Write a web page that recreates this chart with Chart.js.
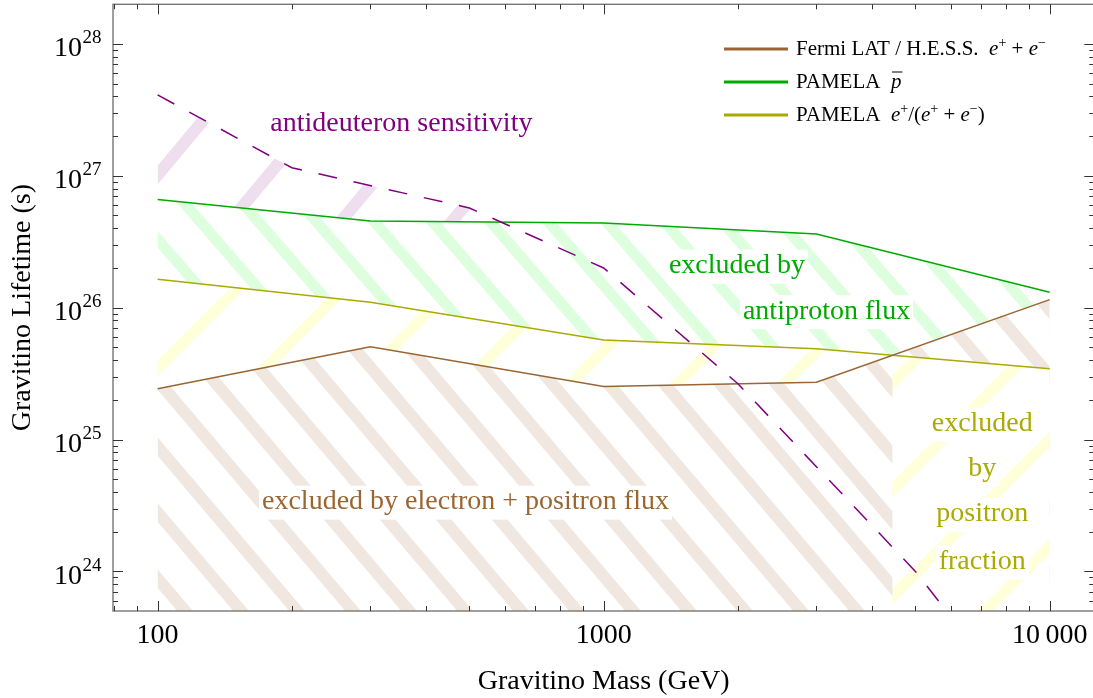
<!DOCTYPE html>
<html>
<head>
<meta charset="utf-8">
<script src="https://cdn.jsdelivr.net/npm/chart.js@4.4.1/dist/chart.umd.min.js"></script>
<style>
html, body { margin: 0; padding: 0; background: #fff; overflow: hidden; }
#wrap { width: 1098px; height: 698px; }
</style>
</head>
<body>
<div id="wrap"><canvas id="chart" width="1098" height="698"></canvas></div>
<script>
// constraint curves (mass in GeV, lifetime in s)
const masses = [100, 300, 1000, 3000, 10000];
const fermiHess = [2.43e25, 5.06e25, 2.52e25, 2.72e25, 1.15e26];
const pamelaPbar = [6.6e26, 4.54e26, 4.39e26, 3.62e26, 1.31e26];
const pamelaFrac = [1.64e26, 1.10e26, 5.69e25, 4.87e25, 3.44e25];

// antideuteron sensitivity (dashed)
const dbarMasses = [100, 200, 500, 1000, 2000, 5000, 10000];
const dbarLifetime = [4.1e27, 1.15e27, 5.7e26, 2.0e26, 2.65e25, 1.0e24, 5e22];

const xTicks = [100, 1000, 10000];
const xTickLabels = ['100', '1000', '10\u2009000'];
const yExponents = [24, 25, 26, 27, 28];

const serif = "'Liberation Serif', 'Times New Roman', serif";
const brown = '#996633', green = '#00aa00', olive = '#aaaa00', purple = '#800080';

// region labels, placed in data coordinates
const regionLabels = [
    { text: 'antideuteron sensitivity', mass: 352, life: 2.49e27, color: purple },
    { text: 'excluded by', mass: 1990, life: 2.08e26, color: green },
    { text: 'antiproton flux', mass: 3160, life: 9.4e25, color: green },
    { text: 'excluded by electron + positron flux', mass: 490, life: 3.38e24, color: brown },
    { text: 'excluded', mass: 7060, life: 1.32e25, color: olive },
    { text: 'by', mass: 7060, life: 6.05e24, color: olive },
    { text: 'positron', mass: 7060, life: 2.73e24, color: olive },
    { text: 'fraction', mass: 7060, life: 1.19e24, color: olive }
];

const ctx = document.getElementById('chart').getContext('2d');

// diagonal hatch tiles (white backed so later regions cover earlier ones)
function stripes(color, period, height, offset, down, width) {
    const c = document.createElement('canvas');
    c.width = period; c.height = height;
    const g = c.getContext('2d');
    g.fillStyle = '#fff';
    g.fillRect(0, 0, period, height);
    g.strokeStyle = color;
    g.lineWidth = width;
    for (let k = -2; k <= 2; k++) {
        const x0 = offset + k * period;
        g.beginPath();
        if (down) { g.moveTo(x0 - period, -height); g.lineTo(x0 + 2 * period, 2 * height); }
        else { g.moveTo(x0 + period, -height); g.lineTo(x0 - 2 * period, 2 * height); }
        g.stroke();
    }
    return ctx.createPattern(c, 'repeat');
}
const hatch = {
    brown: stripes('rgb(239,231,224)', 56, 66, 2.7, true, 12),
    green: stripes('rgb(222,255,222)', 58, 67, 8.5, true, 11),
    olive: stripes('rgb(255,255,218)', 107, 107, 98, false, 11),
    purple: stripes('rgb(238,222,238)', 111, 133, 81.7, false, 12)
};

const toXY = (xs, ys) => xs.map((x, i) => ({ x: x, y: ys[i] }));

function lineDs(label, xs, ys, color, dash) {
    return { label: label, data: toXY(xs, ys), borderColor: color, borderWidth: 1.5,
        borderDash: dash || [], pointRadius: 0, fill: false, tension: 0 };
}
function fillDs(xs, ys, fill) {
    return { data: toXY(xs, ys), borderColor: 'rgba(0,0,0,0)', borderWidth: 0,
        pointRadius: 0, fill: fill, tension: 0 };
}

// below the fermi line, where the positron fraction line is lower it wins
const hatchFix = {
    id: 'hatchFix',
    afterDatasetDraw(chart, args) {
        if (args.index !== 5) return;
        const Y = chart.getDatasetMeta(6).data, B = chart.getDatasetMeta(5).data;
        const c = chart.ctx, a = chart.chartArea;
        c.save();
        c.beginPath();
        c.rect(a.left, a.top, a.right - a.left, a.bottom - a.top);
        c.clip();
        c.beginPath();
        for (let i = 0; i < Y.length - 1; i++) {
            const d0 = Y[i].y - B[i].y, d1 = Y[i + 1].y - B[i + 1].y;
            if (d0 <= 0 && d1 <= 0) continue;
            let x0 = Y[i].x, x1 = Y[i + 1].x;
            if (d0 < 0) x0 += (x1 - x0) * (-d0) / (d1 - d0);
            else if (d1 < 0) x1 = x0 + (x1 - x0) * d0 / (d0 - d1);
            c.rect(x0, a.top, x1 - x0, a.bottom - a.top);
        }
        c.clip();
        c.beginPath();
        c.moveTo(Y[0].x, Y[0].y);
        Y.forEach(p => c.lineTo(p.x, p.y));
        c.lineTo(Y[Y.length - 1].x, a.bottom);
        c.lineTo(Y[0].x, a.bottom);
        c.closePath();
        c.fillStyle = hatch.olive;
        c.fill();
        c.restore();
    }
};

// frame with inward ticks on all four sides, plus 10^n labels
const frame = {
    id: 'frame',
    afterDatasetsDraw(chart) {
        const c = chart.ctx, a = chart.chartArea, x = chart.scales.x, y = chart.scales.y;
        const seg = (x1, y1, x2, y2) => { c.beginPath(); c.moveTo(x1, y1); c.lineTo(x2, y2); c.stroke(); };
        c.save();
        c.strokeStyle = '#777';
        c.lineWidth = 1.4;
        c.strokeRect(a.left, a.top, a.right - a.left, a.bottom - a.top);
        c.strokeStyle = '#333';
        c.lineWidth = 1;
        for (let e = 1; e <= 4; e++) {
            for (let m = 1; m <= 9; m++) {
                const v = m * Math.pow(10, e);
                if (v < x.min || v > x.max) continue;
                const px = Math.round(x.getPixelForValue(v)) + 0.5;
                const len = m === 1 ? 10 : 5;
                seg(px, a.bottom, px, a.bottom - len);
                seg(px, a.top, px, a.top + len);
            }
        }
        for (let e = 23; e <= 28; e++) {
            for (let m = 1; m <= 9; m++) {
                const v = m * Math.pow(10, e);
                if (v < y.min || v > y.max) continue;
                const py = Math.round(y.getPixelForValue(v)) + 0.5;
                const len = m === 1 ? 10 : 5;
                seg(a.left, py, a.left + len, py);
                seg(a.right, py, a.right - len, py);
            }
        }
        c.fillStyle = '#000';
        c.textBaseline = 'alphabetic';
        yExponents.forEach(e => {
            const py = y.getPixelForValue(Math.pow(10, e));
            c.font = '28px ' + serif;
            c.textAlign = 'right';
            c.fillText('10', a.left - 31, py + 12.5);
            c.font = '19px ' + serif;
            c.textAlign = 'left';
            c.fillText(String(e), a.left - 30.5, py - 0.5);
        });
        c.restore();
    }
};

// region labels on white boxes
const regionText = {
    id: 'regionText',
    afterDatasetsDraw(chart) {
        const c = chart.ctx, x = chart.scales.x, y = chart.scales.y;
        c.save();
        c.font = '28px ' + serif;
        c.textAlign = 'center';
        c.textBaseline = 'middle';
        regionLabels.forEach(l => {
            const px = x.getPixelForValue(l.mass), py = y.getPixelForValue(l.life);
            const w = c.measureText(l.text).width + 6;
            c.fillStyle = '#fff';
            c.fillRect(px - w / 2, py - 16, w, 34);
            c.fillStyle = l.color;
            c.fillText(l.text, px, py);
        });
        c.restore();
    }
};

// legend with italic / superscript pieces
const legendRows = [
    { color: brown, parts: [['Fermi LAT / H.E.S.S.  ', 'n'], ['e', 'i'], ['+', 's'], [' + ', 'n'], ['e', 'i'], ['\u2212', 's']] },
    { color: green, parts: [['PAMELA  ', 'n'], ['p', 'bar']] },
    { color: olive, parts: [['PAMELA  ', 'n'], ['e', 'i'], ['+', 's'], ['/(', 'n'], ['e', 'i'], ['+', 's'], [' + ', 'n'], ['e', 'i'], ['\u2212', 's'], [')', 'n']] }
];
const legendBox = {
    id: 'legendBox',
    afterDraw(chart) {
        const c = chart.ctx;
        c.save();
        legendRows.forEach((row, r) => {
            const ly = 49 + r * 33;
            c.strokeStyle = row.color;
            c.lineWidth = 3;
            c.beginPath(); c.moveTo(724, ly); c.lineTo(788, ly); c.stroke();
            let tx = 796;
            const base = ly + 5.5;
            c.fillStyle = '#000';
            c.textAlign = 'left';
            c.textBaseline = 'alphabetic';
            row.parts.forEach(([t, s]) => {
                if (s === 's') {
                    c.font = '14px ' + serif;
                    c.fillText(t, tx, base - 8);
                } else {
                    c.font = (s === 'n' ? '' : 'italic ') + '21px ' + serif;
                    c.fillText(t, tx, base);
                }
                const w = c.measureText(t).width;
                if (s === 'bar') {
                    c.strokeStyle = '#000'; c.lineWidth = 1;
                    c.beginPath(); c.moveTo(tx + 1, base - 15.5); c.lineTo(tx + w + 1, base - 15.5); c.stroke();
                }
                tx += w;
            });
        });
        c.restore();
    }
};

const chart = new Chart(ctx, {
    type: 'line',
    data: {
        datasets: [
            lineDs('antideuteron sensitivity', dbarMasses, dbarLifetime, purple, [19, 17]),
            lineDs('Fermi LAT / H.E.S.S.', masses, fermiHess, brown),
            lineDs('PAMELA pbar', masses, pamelaPbar, green),
            lineDs('PAMELA positron fraction', masses, pamelaFrac, olive),
            fillDs(dbarMasses, dbarLifetime, { target: 2, above: hatch.purple, below: 'rgba(0,0,0,0)' }),
            fillDs(masses, fermiHess, { target: 'start', above: hatch.brown, below: hatch.brown }),
            fillDs(masses, pamelaFrac, { target: 'start', above: hatch.olive, below: hatch.olive }),
            fillDs(masses, pamelaPbar, { target: 'start', above: hatch.green, below: hatch.green })
        ]
    },
    options: {
        responsive: false,
        animation: false,
        devicePixelRatio: 1,
        events: [],
        layout: { padding: { top: 4.3, right: 3.7, left: 0, bottom: 0 } },
        plugins: { legend: { display: false }, tooltip: { enabled: false } },
        scales: {
            x: {
                type: 'logarithmic',
                min: Math.pow(10, 1.9), max: Math.pow(10, 4.1),
                afterBuildTicks: s => { s.ticks = xTicks.map(v => ({ value: v })); },
                afterFit: s => { s.height = 87; },
                grid: { display: false, drawTicks: false },
                border: { display: false },
                ticks: {
                    autoSkip: false, maxRotation: 0, padding: 8, color: '#000',
                    font: { family: serif, size: 28 },
                    callback: v => { const i = xTicks.indexOf(v); return i < 0 ? '' : xTickLabels[i]; }
                },
                title: { display: true, text: 'Gravitino Mass (GeV)', color: '#000',
                    font: { family: serif, size: 28 }, padding: 0 }
            },
            y: {
                type: 'logarithmic',
                min: Math.pow(10, 23.7), max: Math.pow(10, 28.3),
                afterFit: s => { s.width = 113; },
                grid: { display: false, drawTicks: false },
                border: { display: false },
                ticks: { display: false },
                title: { display: true, text: 'Gravitino Lifetime (s)', color: '#000',
                    font: { family: serif, size: 28 }, padding: { top: 6, bottom: 0 } }
            }
        }
    },
    plugins: [hatchFix, frame, regionText, legendBox]
});
</script>
</body>
</html>
